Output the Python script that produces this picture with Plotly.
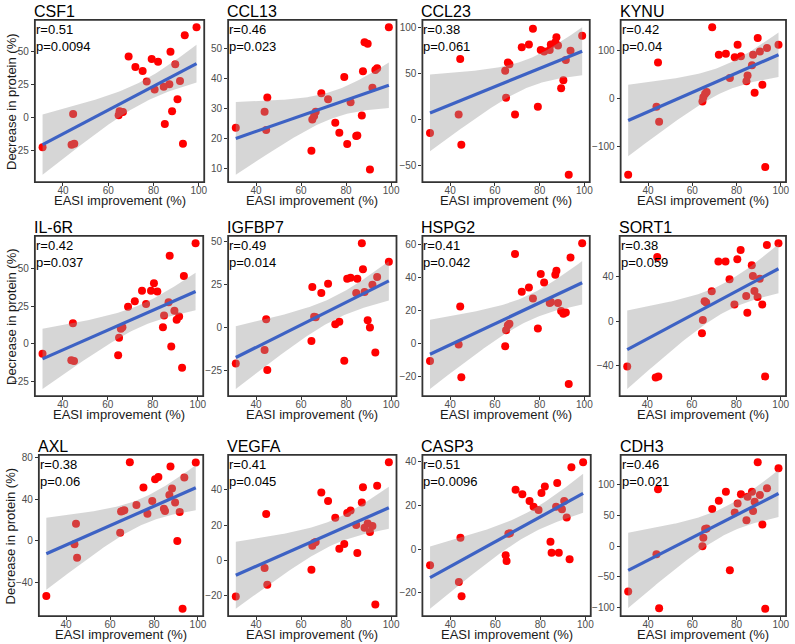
import numpy as np
import plotly.graph_objects as go

# ---------------- data ----------------
EASI = [31, 43.8, 44.5, 45, 64.6, 65, 65.8, 66.5, 69, 72, 75.2, 77, 79.2, 80.5,
        82, 84.5, 85, 87, 87.5, 88.2, 89.6, 90.6, 91.7, 93, 93.8, 99]

CSF1 = [-22.7, -20.7, 2.5, -20, 1.5, 4.5, 4, 4, 46, 38, 35, 27, 44, 21, 42,
        23, -5, 25, 49.5, 4.5, 40, 13.6, 27.5, -20, 62, 68]
CCL13 = [23.6, 28.9, 22.8, 33.6, 15.9, 26.3, 27.5, 28.9, 35, 33, 25.2, 21.9, 40.4,
         18.2, 32, 20.8, 21, 27.6, 42.3, 51.9, 51.4, 9.7, 36.8, 42.7, 43.3, 56.9]
CCL23 = [-14.6, 5.5, 65.7, -27.4, 53, 23.7, 62, 60, 5.5, 78.5, 81.4, 98.5, 13.9,
         75.5, 74, 75.5, 81.4, 84, 89.4, 80.3, 34, 42.7, 64.6, -60, 74.8, 91]
KYNU = [-158, -17, 75, -48, -6, 3, 10, 14, 148, 91, 93, 43, 86, 112, 88,
        36, 48, 69, 91, 12, 126, 98, 29, -142, 105, 112]
IL6R = [-6.6, -11, 13.7, -11.5, -7.7, 4, 10, 11, 24.7, 28.3, 35.3, 26.5, 35.3,
        40.2, 34.7, 11, 18.8, 27.6, 58.5, -1.8, 22, 15.9, 18.1, -15.9, 45, 66.9]
IGFBP7 = [-20.8, -13, 4.8, -24.6, -7.7, 23.5, 6.2, 6, 20, 25.4, 1.9, 3.3, -19.2,
          28.3, 28.8, 20, 28.3, 48.8, 33.7, 20.6, 4.2, 0, 24.8, -14.4, 29.2, 38]
HSPG2 = [-10.6, -0.6, 22.4, -20.4, -1.6, 8, 11, 12, 54, 31.2, 33.8, 27.2, 9,
         42, 36.8, 24.4, 25, 41.6, 44, 24.4, 19.6, 18, 18.8, -24.4, 52, 60.6]
SORT1 = [-41, -51, 58, -50, -11, 1, 18, 17, 27, 54, 54, 38, 15, 56, 64.5,
         22.7, 7.6, 50.6, 41, 27.3, 21.8, 38.5, 15, -50, 69, 70.6]
AXL = [-52.8, -3.2, 16.6, -16, 8, 28.2, 29, 29.4, 75.5, 34.6, 51.2, 26.2, 38.4,
       59.2, 61.4, 31, 28.8, 44, 71.4, 50.2, 37, 0, 27.8, -65, 60.8, 75.2]
VEGFA = [-20.5, -4.4, 26.2, -13.9, -5.3, 8.2, 10, 10.4, 38.5, 33.6, 24.1, 6.5, 9.3,
         26.8, 28.3, 20, 4.2, 32.8, 41.4, 18.4, 20.9, 16.1, 19.5, -25, 42.3, 55.6]
CASP3 = [-7.4, -15, 5.2, -21.6, -2.8, -5.5, 7, 7.2, 27.1, 25.1, 22, 19.4, 17.9,
         25.6, 28.6, 3.4, -1.7, 19.4, 30.2, -1.7, 18.2, 22, 14.4, -4.6, 37.4, 39.7]
CDH3 = [-73.6, -13, 92.7, -101, 0, 13.6, 28, 28.9, 60.5, 74.2, 88.9, -39.3, 55,
        69.8, 84.5, 42.5, 80.7, 88.9, 57.3, 72.5, 136.9, 83.4, 35.4, -102, 94.3, 127]

PANEL_NAMES = ["CSF1", "CCL13", "CCL23", "KYNU", "IL-6R", "IGFBP7", "HSPG2",
               "SORT1", "AXL", "VEGFA", "CASP3", "CDH3"]
PANEL_VALUES = [CSF1, CCL13, CCL23, KYNU, IL6R, IGFBP7, HSPG2, SORT1, AXL,
                VEGFA, CASP3, CDH3]
R_LABELS = ["0.51", "0.46", "0.38", "0.42", "0.42", "0.49", "0.41", "0.38",
            "0.38", "0.41", "0.51", "0.46"]
P_LABELS = ["0.0094", "0.023", "0.061", "0.04", "0.037", "0.014", "0.042",
            "0.059", "0.06", "0.045", "0.0096", "0.021"]

X_TICKS = [40, 60, 80, 100]
CSF1_TICKS = [-50, -25, 0, 25, 50]
CCL13_TICKS = [10, 20, 30, 40, 50]
CCL23_TICKS = [-50, 0, 50, 100]
KYNU_TICKS = [-100, 0, 100]
IL6R_TICKS = [-25, 0, 25, 50]
IGFBP7_TICKS = [-25, 0, 25, 50]
HSPG2_TICKS = [-20, 0, 20, 40, 60]
SORT1_TICKS = [-40, 0, 40]
AXL_TICKS = [-40, 0, 40, 80]
VEGFA_TICKS = [-20, 0, 20, 40]
CASP3_TICKS = [-20, 0, 20, 40]
CDH3_TICKS = [-100, -50, 0, 50, 100]
PANEL_TICKS = [CSF1_TICKS, CCL13_TICKS, CCL23_TICKS, KYNU_TICKS, IL6R_TICKS,
               IGFBP7_TICKS, HSPG2_TICKS, SORT1_TICKS, AXL_TICKS, VEGFA_TICKS,
               CASP3_TICKS, CDH3_TICKS]

X_TITLE = "EASI improvement (%)"
Y_TITLE = "Decrease in protein (%)"

# ---------------- layout (pixel frames of each panel) ----------------
W, H = 795, 644
FRAMES = [  # left, right, top, bottom in px
    (35, 205, 17, 180), (229, 398, 17, 180), (424, 592, 17, 180), (623, 789, 17, 180),
    (35, 204, 234, 395), (229, 398, 234, 395), (424, 592, 234, 395), (622, 789, 234, 395),
    (39, 204, 454, 616), (229, 398, 454, 616), (424, 593, 454, 616), (623, 789, 454, 616),
]


def fx(px):
    return px / W


def fy(py):
    return 1 - py / H


T_CRIT = 2.0639  # t quantile 0.975, df = 24
FONT = "Liberation Sans, Arial, Helvetica, sans-serif"

fig = go.Figure()
layout_axes = {}
annotations = []
shapes = []

x = np.asarray(EASI, dtype=float)
n = len(x)
xr = x.max() - x.min()
x_range = [x.min() - 0.05 * xr, x.max() + 0.05 * xr]

for i, (name, vals, ticks) in enumerate(zip(PANEL_NAMES, PANEL_VALUES, PANEL_TICKS)):
    k = "" if i == 0 else str(i + 1)
    xa, ya = "x" + k, "y" + k
    y = np.asarray(vals, dtype=float)

    # linear model fit with 95% confidence band
    xb = x.mean()
    sxx = ((x - xb) ** 2).sum()
    b = ((x - xb) * (y - y.mean())).sum() / sxx
    a = y.mean() - b * xb
    s = np.sqrt(((y - (a + b * x)) ** 2).sum() / (n - 2))
    xs = np.linspace(x.min(), x.max(), 80)
    fit = a + b * xs
    se = s * np.sqrt(1.0 / n + (xs - xb) ** 2 / sxx)
    lo, hi = fit - T_CRIT * se, fit + T_CRIT * se

    ymin = min(y.min(), lo.min())
    ymax = max(y.max(), hi.max())
    yr = ymax - ymin
    y_range = [ymin - 0.05 * yr, ymax + 0.05 * yr]

    fig.add_trace(go.Scatter(x=x, y=y, mode="markers", xaxis=xa, yaxis=ya,
                             marker=dict(color="#FF0000", size=8, line=dict(width=0)),
                             showlegend=False, hoverinfo="skip"))
    fig.add_trace(go.Scatter(x=np.concatenate([xs, xs[::-1]]),
                             y=np.concatenate([hi, lo[::-1]]),
                             mode="lines", fill="toself",
                             fillcolor="rgba(153,153,153,0.4)", line=dict(width=0),
                             xaxis=xa, yaxis=ya, showlegend=False, hoverinfo="skip"))
    fig.add_trace(go.Scatter(x=xs, y=fit, mode="lines", xaxis=xa, yaxis=ya,
                             line=dict(color="#3D62C4", width=3.2),
                             showlegend=False, hoverinfo="skip"))

    L, R, T, B = FRAMES[i]
    tickfont = dict(family=FONT, size=10, color="#4D4D4D")
    layout_axes["xaxis" + k] = dict(domain=[fx(L), fx(R)], range=x_range, anchor=ya,
                                    tickvals=X_TICKS, ticks="outside", ticklen=3,
                                    tickwidth=1, tickcolor="#333333", showgrid=False,
                                    zeroline=False, showline=False, tickfont=tickfont,
                                    ticklabelstandoff=-4, fixedrange=True)
    layout_axes["yaxis" + k] = dict(domain=[fy(B), fy(T)], range=y_range, anchor=xa,
                                    tickvals=ticks, ticks="outside", ticklen=3,
                                    tickwidth=1, tickcolor="#333333", showgrid=False,
                                    zeroline=False, showline=False, tickfont=tickfont,
                                    fixedrange=True)
    shapes.append(dict(type="rect", xref=xa + " domain", yref=ya + " domain",
                       x0=0, x1=1, y0=0, y1=1, line=dict(color="#333333", width=1.8),
                       layer="above"))
    annotations.append(dict(text=name, xref=xa + " domain", yref=ya + " domain",
                            x=0, y=1, xanchor="left", yanchor="bottom", xshift=-3, yshift=-2,
                            showarrow=False, font=dict(family=FONT, size=16, color="#000000")))
    annotations.append(dict(text="r=" + R_LABELS[i] + "<br>p=" + P_LABELS[i],
                            xref=xa + " domain", yref=ya + " domain", x=0, y=1,
                            xanchor="left", yanchor="top", align="left", xshift=-1, yshift=0,
                            showarrow=False, font=dict(family=FONT, size=13, color="#000000")))
    annotations.append(dict(text=X_TITLE, xref=xa + " domain", yref=ya + " domain",
                            x=0.5, y=0, xanchor="center", yanchor="top", yshift=-9,
                            showarrow=False, font=dict(family=FONT, size=13, color="#1A1A1A")))
    if i % 4 == 0:
        annotations.append(dict(text=Y_TITLE, textangle=-90, xref="paper", yref=ya + " domain",
                                x=fx(11), y=0.5, xanchor="center", yanchor="middle",
                                showarrow=False,
                                font=dict(family=FONT, size=13, color="#1A1A1A")))

fig.update_layout(width=W, height=H, margin=dict(l=0, r=0, t=0, b=0),
                  plot_bgcolor="white", paper_bgcolor="white",
                  annotations=annotations, shapes=shapes, **layout_axes)

# remove the default 8px page margin so the figure fills the window exactly
fig.write_html("out.html", config={"displayModeBar": False},
               post_script="document.body.style.margin='0px';")
